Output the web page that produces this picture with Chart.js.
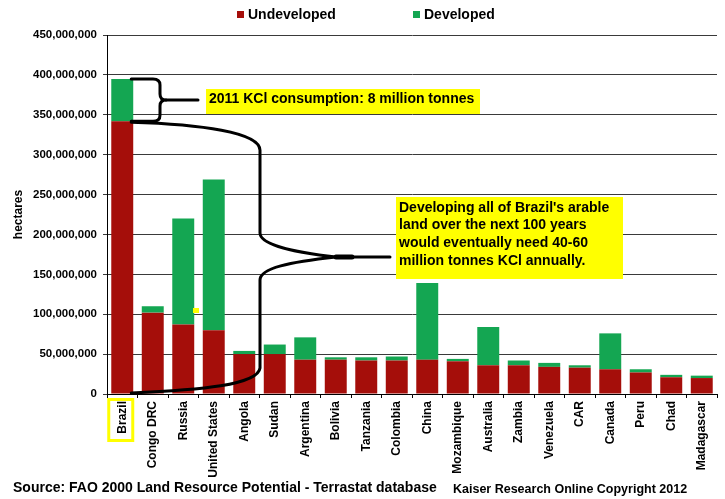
<!DOCTYPE html>
<html><head><meta charset="utf-8">
<script src="https://cdn.jsdelivr.net/npm/chart.js@4/dist/chart.umd.min.js"></script>
<style>html,body{margin:0;padding:0;background:#fff}canvas{display:block}</style>
</head><body>
<canvas id="c" width="725" height="499"></canvas>
<script>
// ---- data (hectares, in millions) ----
const categories = ["Brazil","Congo DRC","Russia","United States","Angola","Sudan","Argentina","Bolivia","Tanzania","Colombia","China","Mozambique","Australia","Zambia","Venezuela","CAR","Canada","Peru","Chad","Madagascar"];
const undevelopedMha = [342,102,87,80,50,50,43,43,42,42,43,41,36,36,34,33,31,27,21,20];
const developedMha   = [53,8,133,189,4,12,28,3,4,5,96,3,48,6,5,3,45,4,3,3];
const yTickValues = [0,50000000,100000000,150000000,200000000,250000000,300000000,350000000,400000000,450000000];
const seriesLabels = ["Undeveloped","Developed"];
const note1 = "2011 KCl consumption: 8 million tonnes";
const note2 = ["Developing all of Brazil's arable","land over the next 100 years","would eventually need 40-60","million tonnes KCl annually."];
const sourceText = "Source: FAO 2000 Land Resource Potential - Terrastat database";
const copyText = "Kaiser Research Online Copyright 2012";
const yTitle = "hectares";

const FONT = '"Liberation Sans", Arial, Helvetica, sans-serif';
const RED = '#A50E0A', GREEN = '#14A652';

const overlay = {
  id: 'overlay',
  afterDraw(chart) {
    const ctx = chart.ctx, ca = chart.chartArea;
    const xs = chart.scales.x, ys = chart.scales.y;
    const ref = {l:107, t:35, r:717, b:394};
    const mx = px => ca.left + (px - ref.l) * (ca.right - ca.left) / (ref.r - ref.l);
    const my = py => ca.top + (py - ref.t) * (ca.bottom - ca.top) / (ref.b - ref.t);
    ctx.save();

    // legend
    ctx.font = `bold 14px ${FONT}`;
    ctx.textBaseline = 'alphabetic';
    ctx.textAlign = 'left';
    const legendX = [237, 413];
    chart.data.datasets.forEach((ds, i) => {
      ctx.fillStyle = ds.backgroundColor;
      ctx.fillRect(legendX[i], 11, 7, 7);
      ctx.fillStyle = '#000';
      ctx.fillText(ds.label, legendX[i] + 11, 19);
    });

    // y title
    ctx.save();
    ctx.translate(22, (ca.top + ca.bottom) / 2);
    ctx.rotate(-Math.PI / 2);
    ctx.textAlign = 'center';
    ctx.textBaseline = 'alphabetic';
    ctx.font = `bold 12px ${FONT}`;
    ctx.fillText(yTitle, 0, 0);
    ctx.restore();

    // Brazil label highlight
    const bc = xs.getPixelForValue(0);
    ctx.strokeStyle = '#FFFF00';
    ctx.lineWidth = 3;
    ctx.strokeRect(bc - 13.5, ca.bottom + 5.5, 24, 41);

    // small yellow speck near Russia
    ctx.fillStyle = '#FFFF00';
    ctx.fillRect(mx(193), my(308), 6, 5);

    // bracket + brace
    const bar = chart.getDatasetMeta(1).data[0];
    const xs0 = bar.x + bar.width / 2 - 2;
    const yT = ys.getPixelForValue(undevelopedMha[0]*1e6 + developedMha[0]*1e6);
    const yB = ys.getPixelForValue(undevelopedMha[0]*1e6);
    const yM = (yT + yB) / 2;
    const y0 = ys.getPixelForValue(0) - 1;
    ctx.strokeStyle = '#000';
    ctx.lineWidth = 3;
    ctx.lineCap = 'round';
    ctx.lineJoin = 'round';
    const xa = mx(160);
    ctx.beginPath();
    ctx.moveTo(xs0, yT);
    ctx.lineTo(xa - 7, yT);
    ctx.quadraticCurveTo(xa, yT, xa, yT + 6);
    ctx.lineTo(xa, yM - 6);
    ctx.quadraticCurveTo(xa, yM, xa + 6, yM);
    ctx.quadraticCurveTo(xa, yM, xa, yM + 6);
    ctx.lineTo(xa, yB - 6);
    ctx.quadraticCurveTo(xa, yB, xa - 7, yB);
    ctx.lineTo(xs0, yB);
    ctx.stroke();
    ctx.beginPath();
    ctx.moveTo(xa + 6, yM);
    ctx.lineTo(mx(198), yM);
    ctx.stroke();

    const xv = mx(260), tipX = mx(336), tipY = my(257);
    ctx.beginPath();
    ctx.moveTo(xs0, yB + 1);
    ctx.bezierCurveTo(mx(200), yB + 3, xv, yB + 11, xv, yB + 29);
    ctx.lineTo(xv, my(233));
    ctx.bezierCurveTo(xv, my(244), mx(290), my(252), tipX, tipY);
    ctx.bezierCurveTo(mx(290), my(262), xv, my(268), xv, my(280));
    ctx.lineTo(xv, my(368));
    ctx.bezierCurveTo(mx(258), my(385), mx(200), y0 - 3, xs0, y0);
    ctx.stroke();
    ctx.beginPath();
    ctx.moveTo(tipX, tipY);
    ctx.lineTo(mx(390), tipY);
    ctx.stroke();
    ctx.lineWidth = 5;
    ctx.beginPath();
    ctx.moveTo(tipX, tipY);
    ctx.lineTo(mx(352), tipY);
    ctx.stroke();

    // note boxes
    ctx.fillStyle = '#FFFF00';
    ctx.fillRect(mx(206), my(89), mx(480) - mx(206), my(114) - my(89));
    ctx.fillRect(mx(396), my(197), mx(623) - mx(396), my(279) - my(197));
    ctx.fillStyle = '#000';
    ctx.font = `bold 14px ${FONT}`;
    ctx.textAlign = 'left';
    ctx.textBaseline = 'alphabetic';
    ctx.fillText(note1, mx(209), my(103));
    note2.forEach((t, i) => ctx.fillText(t, mx(399), my(211.5 + i * 17.8)));

    // footer
    ctx.font = `bold 14px ${FONT}`;
    ctx.fillText(sourceText, 13, 492);
    ctx.font = `bold 12.5px ${FONT}`;
    ctx.fillText(copyText, 453, 493);
    ctx.restore();
  }
};

new Chart(document.getElementById('c'), {
  type: 'bar',
  data: {
    labels: categories,
    datasets: [
      { label: seriesLabels[0], data: undevelopedMha.map(v => v * 1e6), backgroundColor: RED, borderWidth: 0 },
      { label: seriesLabels[1], data: developedMha.map(v => v * 1e6), backgroundColor: GREEN, borderWidth: 0 }
    ]
  },
  options: {
    responsive: false,
    animation: false,
    devicePixelRatio: 1,
    layout: { padding: { top: 35, right: 8, left: 0, bottom: 0 } },
    plugins: { legend: { display: false }, tooltip: { enabled: false } },
    datasets: { bar: { categoryPercentage: 1.0, barPercentage: 0.72 } },
    scales: {
      x: {
        stacked: true,
        afterFit: s => { s.height = 105; },
        grid: { drawOnChartArea: false, drawTicks: true, tickLength: 4, color: '#000', offset: true },
        border: { display: true, color: '#000', width: 1 },
        ticks: { autoSkip: false, minRotation: 90, maxRotation: 90, padding: 3, color: '#000',
                 font: { family: FONT, size: 12, weight: 'bold' } }
      },
      y: {
        stacked: true,
        min: 0, max: 450000000,
        afterFit: s => { s.width = 107; },
        afterBuildTicks: s => { s.ticks = yTickValues.map(v => ({ value: v })); },
        grid: { color: '#3a3a3a', lineWidth: 1, tickLength: 4, drawTicks: true },
        border: { display: true, color: '#000', width: 1 },
        ticks: { padding: 6, color: '#000', autoSkip: false,
                 font: { family: FONT, size: 11.5, weight: 'bold' },
                 callback: v => Number(v).toLocaleString('en-US') }
      }
    }
  },
  plugins: [overlay]
});
</script>
</body></html>
